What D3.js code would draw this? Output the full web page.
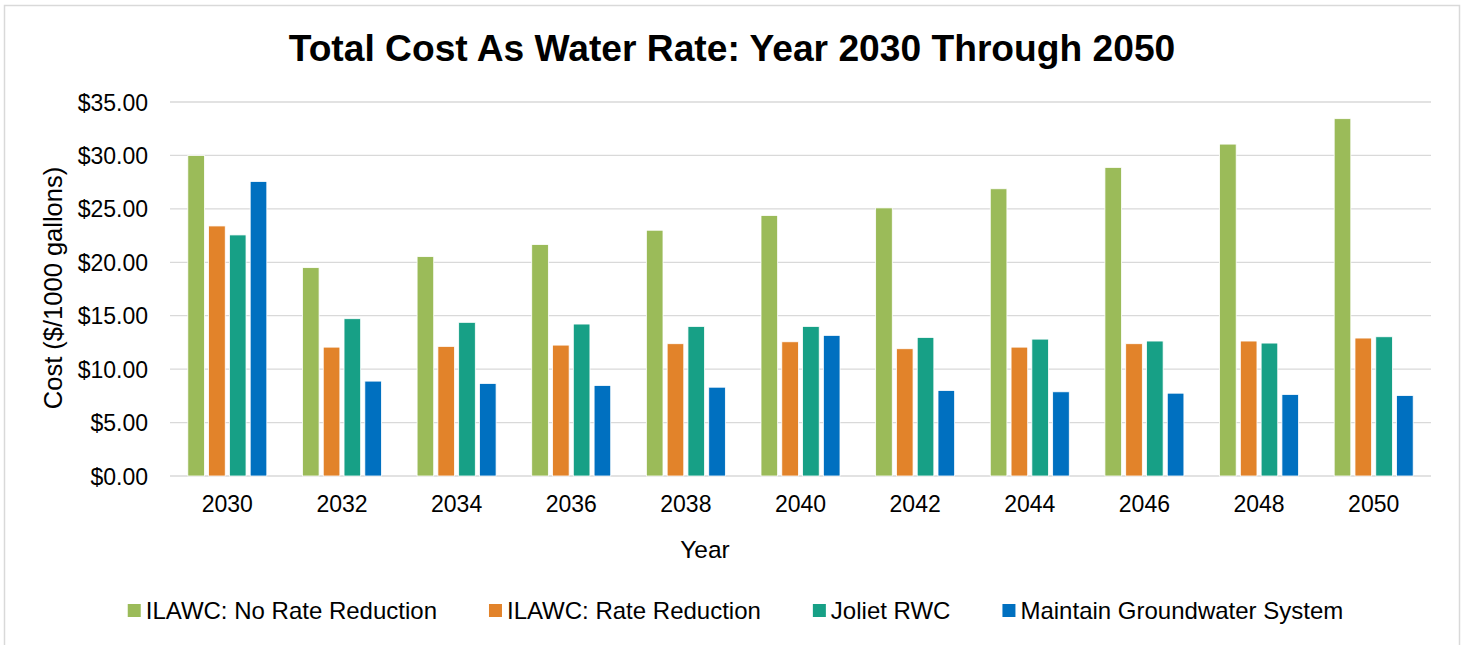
<!DOCTYPE html>
<html>
<head>
<meta charset="utf-8">
<script src="https://cdn.jsdelivr.net/npm/d3@7"></script>
<style>
  html, body { margin: 0; padding: 0; background: #ffffff; }
  svg { display: block; font-family: "Liberation Sans", Arial, sans-serif; }
</style>
</head>
<body>
<svg id="chart" width="1466" height="645"></svg>
<script>
const years = ["2030","2032","2034","2036","2038","2040","2042","2044","2046","2048","2050"];
const seriesNames = ["ILAWC: No Rate Reduction","ILAWC: Rate Reduction","Joliet RWC","Maintain Groundwater System"];
const noRateReduction = [30.00,19.50,20.53,21.66,23.00,24.38,25.09,26.88,28.88,31.06,33.44];
const rateReduction   = [23.40,12.06,12.13,12.25,12.38,12.56,11.91,12.06,12.38,12.63,12.91];
const jolietRWC       = [22.56,14.72,14.38,14.22,14.00,14.00,12.97,12.81,12.63,12.44,13.03];
const groundwater     = [27.56,8.88,8.66,8.47,8.31,13.16,8.00,7.88,7.75,7.63,7.53];
const yTicks = [0,5,10,15,20,25,30,35];
const colors = ["#9BBB59","#E2832A","#17A086","#0070C0"];

const seriesValues = [noRateReduction, rateReduction, jolietRWC, groundwater];

const svg = d3.select("#chart");
const plot = {left: 170, right: 1431, top: 102, bottom: 476};

// chart frame
svg.append("rect").attr("x",4.5).attr("y",5.5).attr("width",1455).attr("height",650)
  .attr("fill","#fff").attr("stroke","#d9d9d9").attr("stroke-width",1.5);

const x0 = d3.scaleBand().domain(years).range([plot.left, plot.right]).paddingInner(0).paddingOuter(0);
const groupW = 79;
const x1 = d3.scaleBand().domain(d3.range(4))
  .range([(x0.bandwidth()-groupW)/2, (x0.bandwidth()+groupW)/2]).paddingInner(0.2).paddingOuter(0);
const y = d3.scaleLinear().domain([0,35]).range([plot.bottom, plot.top]);

// gridlines
svg.append("g").selectAll("line").data(yTicks).join("line")
  .attr("x1", plot.left).attr("x2", plot.right)
  .attr("y1", d => y(d)).attr("y2", d => y(d))
  .attr("stroke", "#d9d9d9").attr("stroke-width", 1.3);

// bars
const groups = svg.append("g").selectAll("g").data(years).join("g")
  .attr("transform", d => `translate(${x0(d)},0)`);
groups.selectAll("rect").data((d,i) => seriesValues.map((s,k) => ({k, v: s[i]}))).join("rect")
  .attr("x", d => x1(d.k))
  .attr("width", x1.bandwidth())
  .attr("y", d => y(d.v))
  .attr("height", d => y(0) - y(d.v))
  .attr("fill", d => colors[d.k])
  .attr("stroke", "#ffffff").attr("stroke-width", 0.8);

// y axis
const yAxis = svg.append("g").attr("transform", `translate(${plot.left},0)`)
  .call(d3.axisLeft(y).tickValues(yTicks).tickSize(0).tickPadding(22).tickFormat(d => "$" + d3.format(".2f")(d)));
yAxis.select(".domain").remove();
yAxis.selectAll("text").attr("font-size", 23).attr("fill", "#000").attr("font-family", "Liberation Sans, Arial, sans-serif").attr("dy","0.35em");

// x axis
const xAxis = svg.append("g").attr("transform", `translate(0,${plot.bottom})`)
  .call(d3.axisBottom(x0).tickSize(0).tickPadding(20));
xAxis.select(".domain").remove();
xAxis.selectAll("text").attr("font-size", 23).attr("fill", "#000").attr("font-family", "Liberation Sans, Arial, sans-serif");

// title
svg.append("text").attr("x", 732).attr("y", 61).attr("text-anchor","middle")
  .attr("font-size", 37.2).attr("font-weight","bold").attr("fill","#000")
  .text("Total Cost As Water Rate: Year 2030 Through 2050");

// axis titles
svg.append("text").attr("x", 705).attr("y", 558).attr("text-anchor","middle")
  .attr("font-size", 24.5).attr("fill","#000").text("Year");
svg.append("text").attr("transform", "translate(62,288) rotate(-90)").attr("text-anchor","middle")
  .attr("font-size", 25.5).attr("fill","#000").text("Cost ($/1000 gallons)");

// legend
const legend = svg.append("g");
const items = legend.selectAll("g").data(seriesNames).join("g");
items.append("rect").attr("width", 13).attr("height", 13).attr("y", 604).attr("fill", (d,i) => colors[i]);
items.append("text").attr("x", 18).attr("y", 619).attr("font-size", 24).attr("fill","#000").text(d => d);
let widths = [];
items.each(function() { widths.push(18 + d3.select(this).select("text").node().getComputedTextLength()); });
const spacing = 52;
const total = d3.sum(widths) + spacing*(widths.length-1);
let cx = 735.5 - total/2;
items.attr("transform", (d,i) => { const t = `translate(${cx},0)`; cx += widths[i] + spacing; return t; });
</script>
</body>
</html>
